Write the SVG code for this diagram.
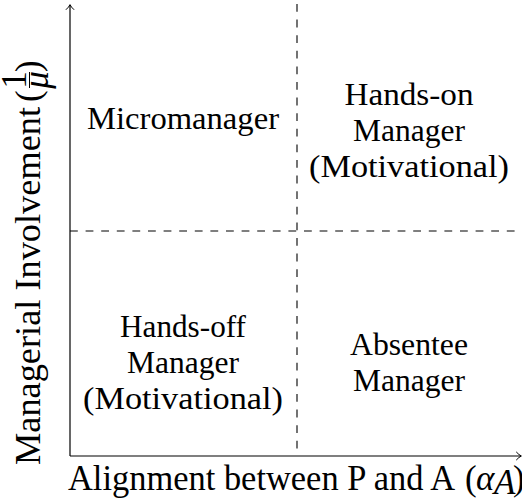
<svg xmlns="http://www.w3.org/2000/svg" width="522" height="501" viewBox="0 0 522 501">
  <style>
    .q { font-size: 32px; fill: #000; text-anchor: middle; }
    .lab { font-size: 35px; fill: #000; }
    .it { font-style: italic; }
    .axis { stroke: #000; stroke-width: 1.2; fill: none; }
    .dash { stroke: #000; stroke-width: 1.1; fill: none; stroke-dasharray: 7.8 7.8; }
    .head { stroke: #000; stroke-width: 1; fill: none; stroke-linecap: round; }
  </style>
  <rect width="522" height="501" fill="#fff"/>

  <g id="connectors">
    <g id="axes">
      <line class="axis" x1="70" y1="456" x2="70" y2="5"/>
      <path class="head" d="M66.2,9.5 Q69,7 70,4.6 Q71,7 73.8,9.5"/>
      <line class="axis" x1="70" y1="456" x2="520.5" y2="456"/>
      <path class="head" d="M516.5,452.2 Q519,455 521.4,456 Q519,457 516.5,459.8"/>
    </g>
    <g id="dividers">
      <line class="dash" x1="297" y1="4" x2="297" y2="456"/>
      <line class="dash" x1="70" y1="231" x2="522" y2="231"/>
    </g>
  </g>

  <g font-family="'Liberation Serif', 'Times New Roman', serif">
  <g id="micromanager">
    <text class="q" x="183" y="129" textLength="192" lengthAdjust="spacingAndGlyphs">Micromanager</text>
  </g>
  <g id="hands-on-manager">
    <text class="q" x="409" y="105" textLength="129" lengthAdjust="spacingAndGlyphs">Hands-on</text>
    <text class="q" x="409" y="141" textLength="112" lengthAdjust="spacingAndGlyphs">Manager</text>
    <text class="q" x="409" y="177" textLength="200" lengthAdjust="spacingAndGlyphs">(Motivational)</text>
  </g>
  <g id="hands-off-manager">
    <text class="q" x="183" y="337" textLength="126" lengthAdjust="spacingAndGlyphs">Hands-off</text>
    <text class="q" x="183" y="373" textLength="112" lengthAdjust="spacingAndGlyphs">Manager</text>
    <text class="q" x="183" y="409" textLength="200" lengthAdjust="spacingAndGlyphs">(Motivational)</text>
  </g>
  <g id="absentee-manager">
    <text class="q" x="409" y="355" textLength="118" lengthAdjust="spacingAndGlyphs">Absentee</text>
    <text class="q" x="409" y="391" textLength="112" lengthAdjust="spacingAndGlyphs">Manager</text>
  </g>

  <g id="y-label" transform="translate(40,465) rotate(-90)">
    <text class="lab" x="0" y="0" textLength="358" lengthAdjust="spacingAndGlyphs">Managerial Involvement</text>
    <text class="lab" x="363" y="0">(</text>
    <text class="lab" x="385" y="-14" font-size="22" text-anchor="middle">1</text>
    <line x1="377" y1="-10.5" x2="393" y2="-10.5" stroke="#000" stroke-width="1"/>
    <text class="lab it" x="385" y="8" font-size="22" text-anchor="middle">μ</text>
    <text class="lab" x="393" y="0">)</text>
  </g>

  <g id="x-label">
    <text class="lab" x="68" y="490" textLength="387" lengthAdjust="spacingAndGlyphs">Alignment between P and A</text>
    <text class="lab" x="465" y="490">(</text>
    <text class="lab it" x="476" y="490">α</text>
    <text class="lab it" x="494" y="494" font-size="24">A</text>
    <text class="lab" x="513" y="490">)</text>
  </g>
  </g>
</svg>
